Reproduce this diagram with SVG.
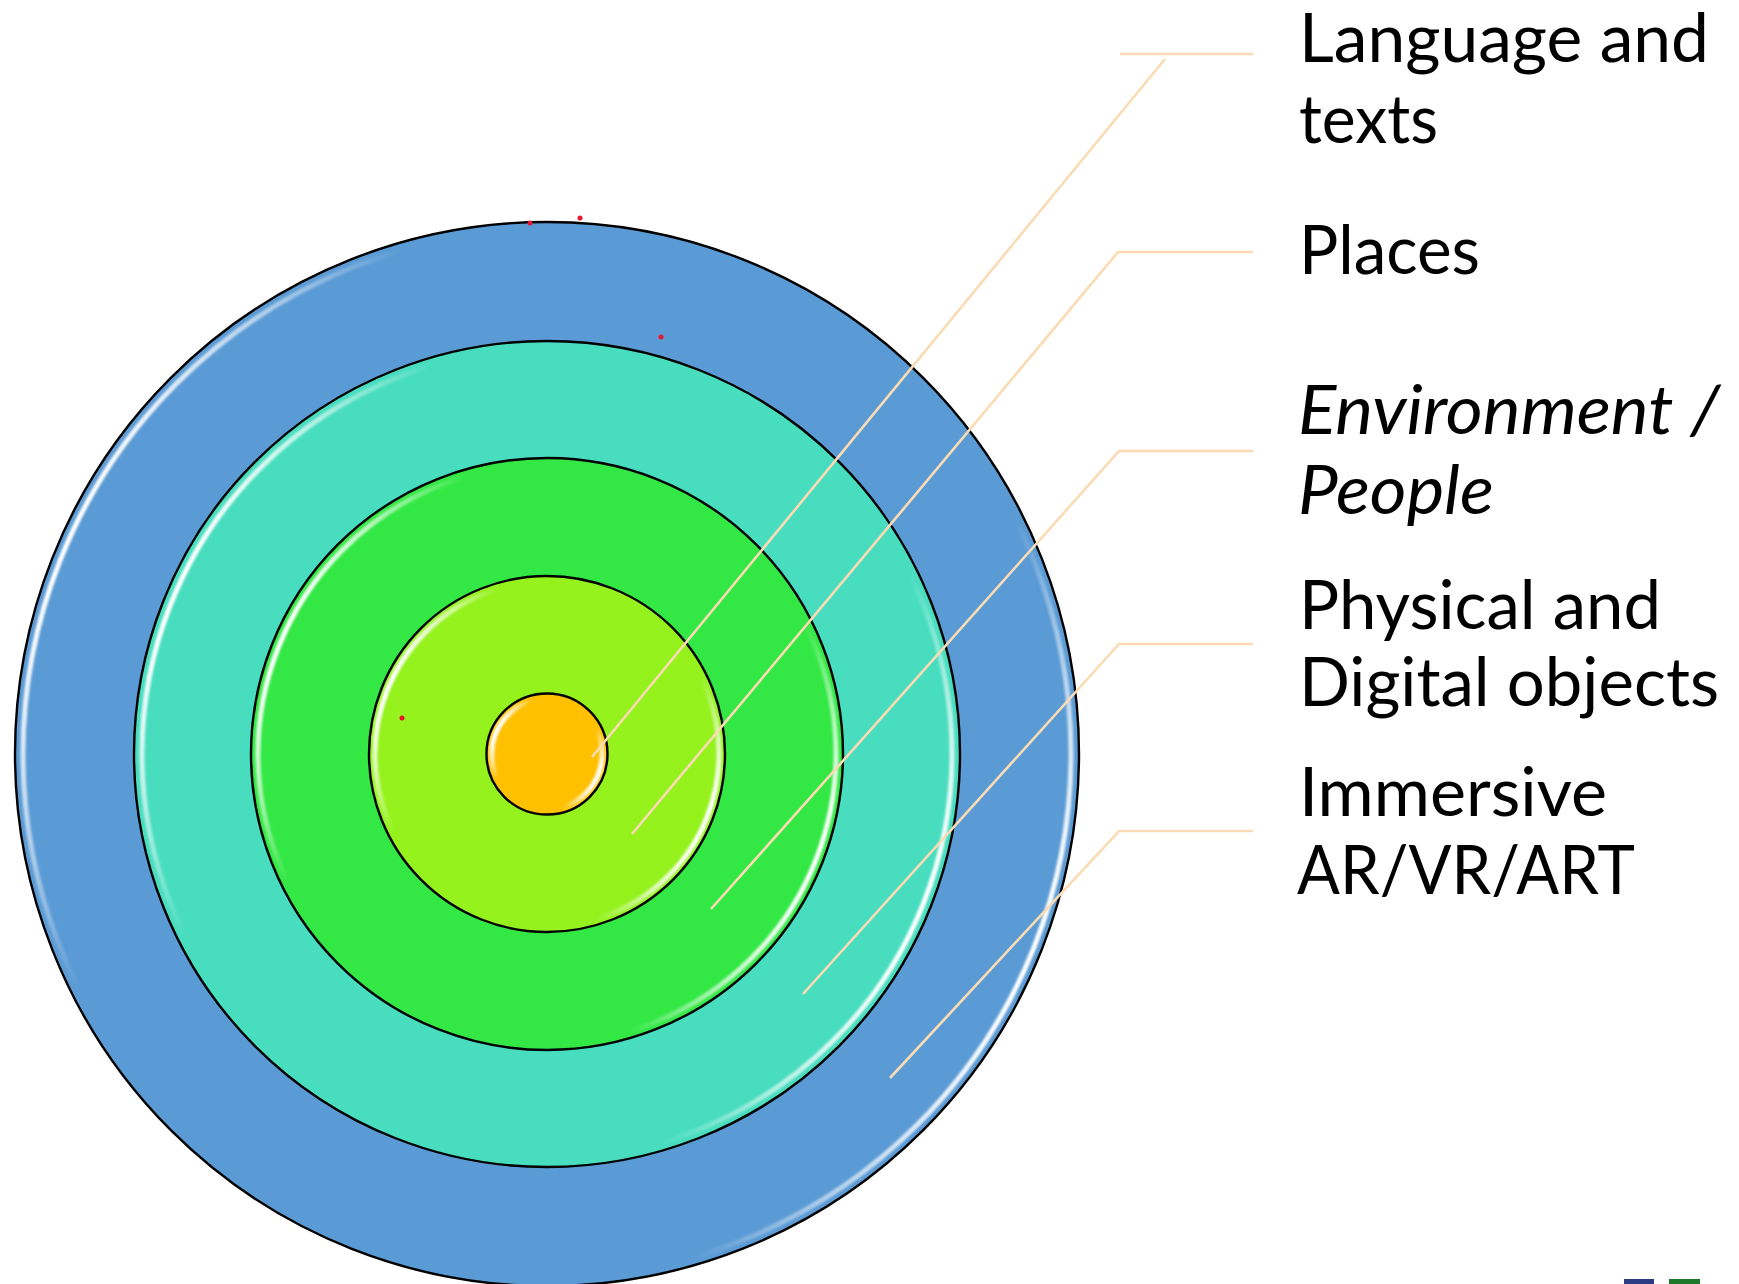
<svg xmlns="http://www.w3.org/2000/svg" width="1739" height="1284" viewBox="0 0 1739 1284">
  <style>
    .ring { stroke: #000; stroke-width: 2.4; }
    .hl { fill: none; stroke: url(#gloss); stroke-width: 5; filter: url(#soft); }
    .lead { fill: none; stroke: #FADBB4; stroke-width: 2.6; stroke-linecap: butt; stroke-linejoin: miter; }
    .lbl { font-family: Lato, "Open Sans", "Liberation Sans", sans-serif; font-size: 68px; fill: #000; }
    .it { font-style: italic; }
    .dot { fill: #E8162E; }
  </style>
  <defs>
    <linearGradient id="gloss" x1="0.04" y1="0.3" x2="0.96" y2="0.7">
      <stop offset="0" stop-color="#fff" stop-opacity="1"/>
      <stop offset="0.18" stop-color="#fff" stop-opacity="0"/>
      <stop offset="0.82" stop-color="#fff" stop-opacity="0"/>
      <stop offset="1" stop-color="#fff" stop-opacity="1"/>
    </linearGradient>
    <filter id="soft" x="-10%" y="-10%" width="120%" height="120%">
      <feGaussianBlur stdDeviation="1.1"/>
    </filter>
  </defs>

  <g id="ring-immersive">
    <circle class="ring" cx="547" cy="754" r="532" fill="#5B9BD5"/>
    <circle class="hl" cx="547" cy="754" r="524"/>
  </g>
  <g id="ring-objects">
    <circle class="ring" cx="547" cy="754" r="413" fill="#48DDBF"/>
    <circle class="hl" cx="547" cy="754" r="405"/>
  </g>
  <g id="ring-environment">
    <circle class="ring" cx="547" cy="754" r="296" fill="#33E845"/>
    <circle class="hl" cx="547" cy="754" r="289"/>
  </g>
  <g id="ring-places">
    <circle class="ring" cx="547" cy="754" r="178" fill="#95F21D"/>
    <circle class="hl" cx="547" cy="754" r="172"/>
  </g>
  <g id="core-language">
    <circle class="ring" cx="547" cy="754" r="60.5" fill="#FFC000"/>
    <circle class="hl" cx="547" cy="754" r="55"/>
  </g>

  <g id="connectors">
    <path class="lead" d="M1253,54 H1120 M1165,59 L592,757"/>
    <path class="lead" d="M1253,252 H1118 L632,834"/>
    <path class="lead" d="M1253,451 H1119 L711,909"/>
    <path class="lead" d="M1253,644 H1119 L803,994"/>
    <path class="lead" d="M1253,831 H1119 L890,1078"/>
  </g>

  <g id="labels">
    <g id="label-language">
      <text class="lbl" x="1299" y="62" textLength="410" lengthAdjust="spacingAndGlyphs">Language and</text>
      <text class="lbl" x="1299" y="143" textLength="139" lengthAdjust="spacingAndGlyphs">texts</text>
    </g>
    <g id="label-places">
      <text class="lbl" x="1299" y="274" textLength="181" lengthAdjust="spacingAndGlyphs">Places</text>
    </g>
    <g id="label-environment">
      <text class="lbl it" x="1298" y="434" textLength="422" lengthAdjust="spacingAndGlyphs">Environment /</text>
      <text class="lbl it" x="1298" y="514" textLength="196" lengthAdjust="spacingAndGlyphs">People</text>
    </g>
    <g id="label-objects">
      <text class="lbl" x="1299" y="629" textLength="362" lengthAdjust="spacingAndGlyphs">Physical and</text>
      <text class="lbl" x="1299" y="706" textLength="420" lengthAdjust="spacingAndGlyphs">Digital objects</text>
    </g>
    <g id="label-immersive">
      <text class="lbl" x="1299" y="816" textLength="308" lengthAdjust="spacingAndGlyphs">Immersive</text>
      <text class="lbl" x="1297" y="894" textLength="338" lengthAdjust="spacingAndGlyphs">AR/VR/ART</text>
    </g>
  </g>

  <g id="marks">
    <circle class="dot" cx="530" cy="223" r="2.5"/>
    <circle class="dot" cx="580" cy="218" r="2.5"/>
    <circle class="dot" cx="661" cy="337" r="2.5"/>
    <circle class="dot" cx="402" cy="718" r="2.5"/>
    <rect x="1624" y="1279" width="30" height="5" fill="#2B3C84"/>
    <rect x="1669" y="1279" width="31" height="5" fill="#1E7A2A"/>
  </g>
</svg>
